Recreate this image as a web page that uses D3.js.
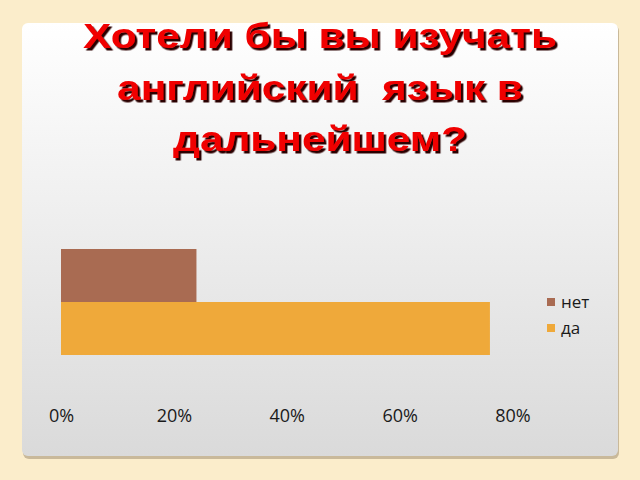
<!DOCTYPE html>
<html>
<head>
<meta charset="utf-8">
<script src="https://cdn.jsdelivr.net/npm/d3@7"></script>
<style>
  html, body { margin: 0; padding: 0; background: #fbedcb; }
  svg { display: block; }
</style>
</head>
<body>
<script>
var titleLines = ["Хотели бы вы изучать", "английский  язык в", "дальнейшем?"];
var seriesNames = ["нет", "да"];
var seriesValues = [0.24, 0.76];
var seriesColors = ["#a96b52", "#efa93a"];
var tickValues = [0, 0.2, 0.4, 0.6, 0.8];

var width = 640, height = 480;

var svg = d3.select("body").append("svg")
  .attr("width", width).attr("height", height);

var defs = svg.append("defs");
var grad = defs.append("linearGradient").attr("id", "card")
  .attr("x1", 0).attr("y1", 0).attr("x2", 0).attr("y2", 1);
grad.append("stop").attr("offset", "0%").attr("stop-color", "#ffffff");
grad.append("stop").attr("offset", "100%").attr("stop-color", "#dadada");

//Dark shadow under the title letters.
defs.append("filter").attr("id", "shadow")
  .attr("x", "-5%").attr("y", "-20%").attr("width", "115%").attr("height", "150%")
  .append("feDropShadow")
  .attr("dx", 2).attr("dy", 2.5).attr("stdDeviation", 0.4)
  .attr("flood-color", "#2a0505").attr("flood-opacity", 1);

//Card shadow and card.
svg.append("rect").attr("x", 23).attr("y", 25).attr("width", 596).attr("height", 434)
  .attr("rx", 6).style("fill", "#c9b99a");
svg.append("rect").attr("x", 22).attr("y", 23).attr("width", 596).attr("height", 433)
  .attr("rx", 6).style("fill", "url(#card)");

//Title, stretched a bit wider like the original.
titleLines.forEach(function(t, i) {
  svg.append("g")
    .attr("transform", "translate(320," + (48 + i * 51.5) + ") scale(1.21,1)")
    .append("text").text(t)
    .attr("text-anchor", "middle")
    .attr("filter", "url(#shadow)")
    .style("font-family", "'Liberation Sans', Arial, sans-serif")
    .style("font-weight", "bold").style("font-size", "35px")
    .style("white-space", "pre")
    .style("fill", "#f00000");
});

//Scales.
var x = d3.scaleLinear().domain([0, 0.8]).range([61, 512.5]);
var y = d3.scaleBand().domain(seriesNames).range([249, 355]).padding(0);

svg.selectAll("rect.bar").data(seriesValues).enter().append("rect")
  .attr("class", "bar")
  .attr("x", x(0))
  .attr("y", function(d, i) { return y(seriesNames[i]); })
  .attr("width", function(d) { return x(d) - x(0); })
  .attr("height", y.bandwidth())
  .style("fill", function(d, i) { return seriesColors[i]; });

//Axis labels only.
var axis = svg.append("g").attr("transform", "translate(0,406)")
  .call(d3.axisBottom(x).tickValues(tickValues).tickFormat(d3.format(".0%")).tickSize(0));
axis.select(".domain").remove();
axis.selectAll("text")
  .style("font-family", "'Open Sans', 'Noto Sans', sans-serif")
  .style("font-size", "18px")
  .style("fill", "#1a1a1a");

//Legend.
var legend = svg.selectAll("g.legend").data(seriesNames).enter().append("g")
  .attr("class", "legend")
  .attr("transform", function(d, i) { return "translate(547," + (298 + i * 26) + ")"; });
legend.append("rect").attr("width", 8).attr("height", 8)
  .style("fill", function(d, i) { return seriesColors[i]; });
legend.append("text").text(function(d) { return d; })
  .attr("x", 14).attr("y", 10)
  .style("font-family", "'Open Sans', 'Noto Sans', sans-serif")
  .style("font-size", "17px")
  .style("fill", "#1a1a1a");
</script>
</body>
</html>
